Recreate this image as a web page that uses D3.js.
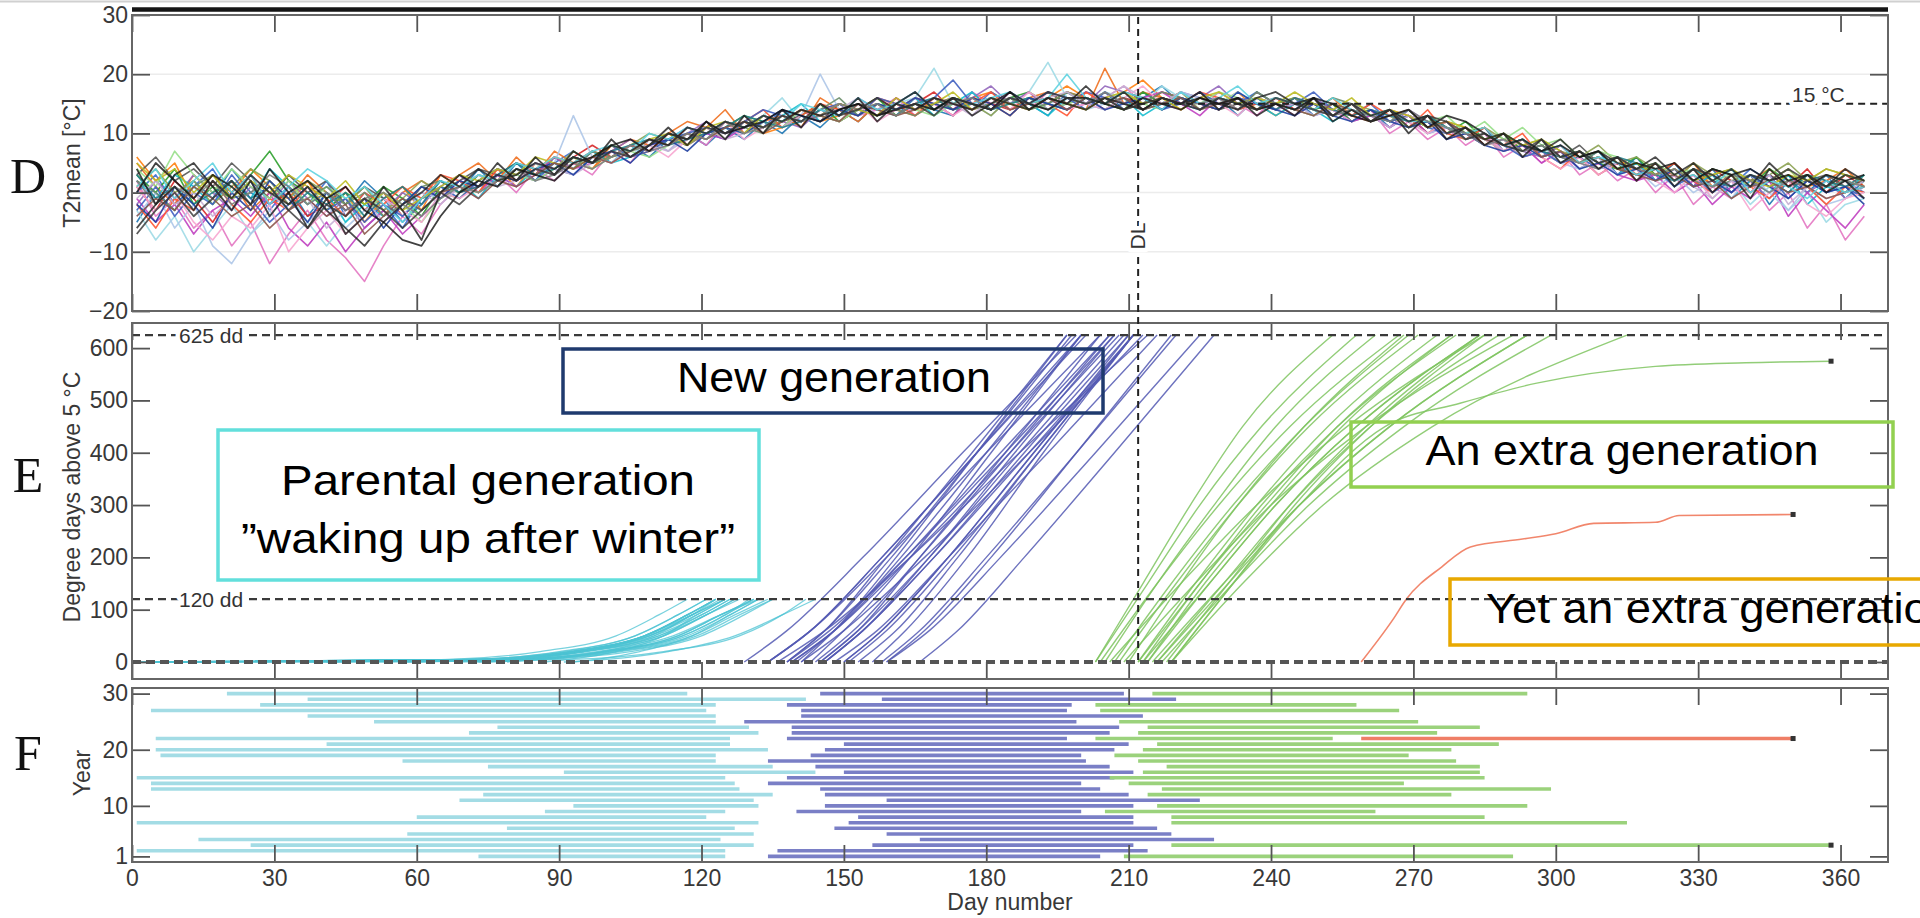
<!DOCTYPE html>
<html lang="en">
<head>
<meta charset="UTF-8">
<title>Degree days and generations</title>
<script src="https://d3js.org/d3.v7.min.js"></script>
<style>
  body { margin: 0; background: #fff; }
  svg { display: block; }
  .axis text { font-family: "Liberation Sans", Arial, sans-serif; font-size: 23px; fill: #383838; }
  .axis line { stroke: #555; stroke-width: 1.8; }
  .title { font-family: "Liberation Sans", Arial, sans-serif; font-size: 23px; fill: #383838; }
  .letter { font-family: "Liberation Serif", "Times New Roman", serif; font-size: 50px; fill: #111; }
  .note { font-family: "Liberation Sans", Arial, sans-serif; font-size: 43px; fill: #000; }
  .ref { font-family: "Liberation Sans", Arial, sans-serif; font-size: 21px; fill: #333;
         paint-order: stroke; stroke: #fff; stroke-width: 9px; stroke-linejoin: round; }
</style>
</head>
<body>
<svg id="chart" width="1920" height="918"></svg>
<script>
// ---- data ----
let dayTicks = [0, 30, 60, 90, 120, 150, 180, 210, 240, 270, 300, 330, 360]
let tempTicks = [-20, -10, 0, 10, 20, 30]
let ddTicks = [0, 100, 200, 300, 400, 500, 600]
let yearTicks = [1, 10, 20, 30]
let years = d3.range(1, 31)

// T2mean, one row per year, sampled every 4th day (day 1, 5, 9 ... 365)
let tempYears = [
  [4,-2,3,5,1,-3,2,-4,0,-6,-1,-7,-4,1,-3,-8,0,3,1,5,2,6,3,7,5,9,6,8,11,8,12,9,13,10,14,11,15,13,16,12,15,17,14,16,13,15,17,14,16,15,18,15,17,14,16,15,17,14,16,13,15,13,16,12,14,12,14,10,13,9,11,8,10,6,9,5,7,4,6,2,5,1,4,0,3,-1,4,1,3,0,2,-1],
  [-5,0,-3,2,-1,4,0,-2,1,-4,0,-2,2,-1,-5,-2,2,0,4,1,5,2,6,4,7,5,8,6,9,10,8,11,9,12,10,13,11,14,12,15,13,16,14,13,17,14,16,15,13,17,15,17,14,16,18,15,14,16,13,16,14,16,13,15,12,14,11,13,10,12,9,11,7,9,6,8,5,7,3,6,2,5,1,4,0,3,-2,2,0,3,-1,2],
  [6,2,5,-1,3,0,4,1,-2,2,-3,0,-5,-1,1,-3,3,1,0,4,1,5,3,6,4,8,6,7,10,8,11,9,12,10,11,14,12,13,15,13,16,14,15,13,16,17,15,14,16,18,16,15,17,19,16,14,16,15,17,14,16,14,15,13,15,12,14,11,13,10,11,8,10,7,8,6,7,4,6,3,4,2,5,1,3,0,2,4,1,2,0,3],
  [2,-4,-1,-6,-3,-9,-5,-12,-7,-3,-8,-11,-15,-9,-4,-7,-2,1,-1,3,0,4,2,5,3,7,5,9,7,10,8,12,10,13,11,14,12,15,13,14,16,13,15,14,17,15,16,14,17,15,17,16,18,15,17,16,14,17,15,13,16,14,13,15,12,14,10,12,9,11,8,10,6,8,5,7,3,5,2,4,0,3,-2,1,-1,2,-3,0,-6,-2,-8,-4],
  [-3,-8,-4,-10,-6,-2,-7,-4,0,-5,-9,-5,-1,-4,0,-2,1,-1,2,4,2,5,3,6,5,7,6,9,8,10,9,12,10,13,16,12,14,13,15,14,15,16,21,15,14,16,15,17,22,16,15,17,16,15,18,16,14,15,17,15,14,16,15,13,14,12,13,11,12,10,9,10,8,7,8,5,7,4,5,2,4,1,3,-1,2,-2,1,-3,0,-5,-2,-1],
  [0,3,-2,1,4,-1,2,-3,1,-2,2,-4,0,-2,-6,-1,0,3,1,2,4,2,5,7,5,6,8,7,9,11,10,9,12,11,14,12,13,15,14,13,15,14,16,15,14,17,15,16,14,15,17,16,15,17,15,16,14,16,15,17,15,14,16,14,13,15,12,13,11,12,10,8,9,7,8,6,5,6,4,5,3,4,2,3,1,4,2,0,3,1,2,0],
  [5,1,-2,3,0,2,-3,0,-1,3,0,-3,-1,-4,0,2,0,3,5,2,6,3,7,5,4,7,9,8,10,12,11,14,10,12,13,11,16,14,12,15,14,13,15,16,14,15,13,16,17,15,14,21,15,17,16,15,17,14,16,15,13,15,14,16,13,12,14,13,10,12,11,9,7,9,6,8,5,6,4,3,5,2,4,1,3,2,4,1,3,2,4,1],
  [1,-3,2,-1,-5,0,3,-2,0,-4,-2,1,-3,0,-4,-1,2,0,1,3,2,5,4,6,8,6,7,9,8,11,10,12,11,13,12,14,13,15,14,16,14,15,17,14,16,15,14,16,15,17,16,14,16,15,17,16,15,14,16,15,16,14,15,14,13,14,12,13,12,10,11,8,9,6,7,5,6,3,5,2,4,3,1,4,2,0,3,1,4,0,3,1],
  [3,0,4,-2,1,-1,3,7,2,0,-3,0,-2,1,-1,-4,1,0,3,2,4,3,6,4,6,8,7,9,8,10,9,11,13,12,11,13,15,12,14,16,13,15,14,16,15,14,16,17,15,14,16,15,14,17,15,16,15,16,14,17,15,16,14,15,12,14,13,11,12,10,12,9,10,7,8,6,7,5,4,6,3,5,2,4,3,1,4,2,3,1,3,2],
  [-2,2,-1,3,0,-3,1,-2,2,-1,-4,-1,-6,-3,0,-2,1,3,0,2,3,2,4,6,5,7,9,7,8,10,12,10,11,13,12,11,14,13,16,14,15,17,14,15,16,18,15,17,14,16,15,18,17,16,15,17,16,18,15,14,15,13,16,14,12,13,11,14,12,9,10,8,9,7,6,8,5,6,3,5,2,4,1,3,0,2,-1,3,0,2,-1,1],
  [-6,-2,1,-3,2,-1,3,0,-2,1,-3,-6,-9,-5,-2,0,3,1,4,2,3,5,4,6,5,8,7,9,8,11,10,12,11,13,12,14,13,14,15,13,15,14,16,15,14,16,15,14,16,15,14,16,15,14,16,15,16,15,14,16,17,15,16,13,15,13,14,12,13,10,11,9,10,8,7,9,6,7,5,4,6,3,5,2,4,1,5,2,3,1,4,2],
  [2,-1,3,1,-2,2,-1,4,1,-2,0,-5,-2,-4,-1,-3,0,2,-1,3,1,4,3,5,7,5,6,8,10,9,11,10,12,11,13,15,12,14,13,15,14,16,13,15,17,14,16,15,13,16,15,14,16,13,15,17,15,16,14,15,13,15,14,12,14,13,12,14,11,12,9,10,8,9,6,7,4,6,3,5,2,3,1,3,-1,2,0,3,-2,1,0,3],
  [-1,-5,-2,-7,-3,-1,-4,0,-6,-9,-5,-10,-6,-3,-7,-4,-1,2,0,3,1,3,6,4,5,7,6,8,9,8,10,9,11,13,12,14,13,12,14,13,16,14,15,13,16,14,17,15,16,14,15,16,14,16,17,15,13,16,14,16,14,15,13,14,12,13,11,13,10,11,9,10,7,8,5,7,4,6,3,2,3,0,2,-2,1,-1,2,-4,0,-3,-6,-2],
  [3,6,2,4,1,5,2,-1,3,0,2,-2,1,-1,-3,1,0,2,4,3,5,4,3,6,5,6,8,7,9,8,11,10,12,11,12,13,12,15,14,13,14,16,15,14,15,16,14,15,17,15,16,15,17,16,14,16,15,14,15,16,15,14,15,13,14,13,12,13,11,12,10,11,8,9,7,6,8,5,6,4,3,5,2,4,3,2,3,1,2,3,1,2],
  [-4,0,-6,-2,-9,-12,-7,-3,-8,-5,-2,-6,-3,-1,-4,0,-1,1,3,2,4,3,5,13,6,5,8,9,7,10,9,11,10,12,14,13,20,14,13,15,14,15,16,14,15,13,16,14,15,16,14,15,16,14,15,17,16,14,16,15,16,15,13,14,15,12,13,12,10,11,10,8,9,6,7,5,4,6,3,4,1,3,0,2,-1,3,0,-3,1,-2,-1,1],
  [1,4,0,2,-2,1,4,2,-1,2,0,-2,1,-3,-1,2,0,-1,2,4,3,5,4,7,5,6,8,10,9,8,10,11,13,11,12,14,13,12,14,15,13,15,14,16,15,13,16,14,15,17,16,15,14,16,15,17,14,16,15,14,15,16,14,13,15,14,12,13,12,11,10,11,9,8,9,7,6,8,5,6,4,2,5,3,4,2,3,5,2,4,3,2],
  [-2,-6,-1,-3,2,-2,-5,-1,-3,1,-1,-4,0,-2,1,-1,3,2,0,4,2,4,6,5,7,6,8,7,10,9,11,10,12,14,11,13,15,14,13,16,15,13,16,14,15,17,14,16,15,13,17,15,16,14,16,15,17,16,14,15,14,16,15,14,13,15,13,11,14,10,9,11,8,10,6,4,7,5,6,4,3,5,2,0,3,1,-1,2,1,-2,1,0],
  [0,5,2,-1,3,1,-2,4,0,2,-1,1,-3,-5,-8,-9,-4,0,2,1,4,3,2,5,6,8,9,7,10,9,12,10,11,12,14,13,12,14,15,13,14,15,14,16,15,14,17,15,14,16,16,15,14,16,15,14,16,15,16,14,15,14,16,15,13,12,13,14,11,13,12,10,8,9,7,8,6,7,4,5,4,5,2,4,3,4,2,3,1,3,2,3],
  [4,1,7,3,0,4,1,-1,2,-2,1,-1,-4,0,-2,-5,-1,1,0,2,3,2,4,6,4,6,7,6,8,10,9,11,10,12,11,14,13,12,14,13,15,14,13,15,16,14,15,16,14,15,16,15,17,15,14,16,15,17,16,14,15,14,13,15,14,12,13,11,12,13,10,12,9,11,8,9,6,7,6,4,5,3,4,2,3,1,2,4,1,3,2,1],
  [-3,1,-4,0,-2,3,-1,-5,-2,1,-3,-1,-5,-2,-4,-1,1,-1,2,4,3,5,4,3,6,8,6,7,9,10,11,10,12,14,13,12,14,15,13,16,15,14,16,19,15,14,16,15,17,16,14,17,15,16,14,15,17,15,16,15,14,15,17,14,12,14,12,13,11,10,11,9,8,6,7,5,6,4,5,3,4,1,3,0,2,1,3,-1,2,0,1,-1],
  [1,-3,0,-5,-8,-4,-6,-2,-10,-6,-3,-7,-4,-1,-3,-5,0,-1,1,3,2,4,3,5,6,5,7,8,6,9,10,12,9,11,13,12,14,13,15,12,14,16,15,13,15,16,14,17,15,14,15,14,16,18,15,14,16,15,13,16,15,13,15,14,12,14,13,12,10,12,9,10,7,9,6,4,6,3,5,4,2,0,3,-1,2,-3,0,2,-2,-4,-1,0],
  [2,0,-3,1,3,-1,0,2,-2,-1,1,-2,0,-4,-2,1,2,0,3,1,4,3,5,4,7,6,7,8,10,9,10,12,11,10,13,12,14,16,13,15,14,13,15,16,14,15,16,14,15,17,15,16,14,15,17,16,15,16,15,14,16,15,14,16,15,13,14,12,13,11,9,10,8,7,8,6,5,7,4,3,4,2,3,1,2,3,1,2,3,1,2,1],
  [-1,2,-2,0,-4,-1,3,0,-3,-1,-6,-3,-1,-5,-2,0,-2,1,3,1,2,5,4,3,5,7,6,8,7,9,11,9,10,12,11,13,12,14,16,13,15,14,16,15,13,16,15,14,16,17,15,16,18,16,15,17,15,16,14,16,14,15,14,13,15,13,11,13,12,10,11,9,7,8,6,7,5,4,5,3,2,4,1,-1,2,0,3,-2,1,-1,0,2],
  [3,-1,1,-2,0,2,-1,1,-3,0,-2,0,-4,-1,1,-2,2,0,1,3,5,3,4,6,5,7,8,9,8,9,10,11,13,12,11,12,14,13,15,14,13,15,16,14,15,14,15,16,15,14,16,15,16,14,15,16,14,16,15,16,14,16,15,14,13,14,13,12,13,11,10,9,10,8,7,6,7,5,6,5,3,2,4,2,1,3,2,0,3,2,1,3],
  [-2,-5,1,-2,-6,0,-3,2,-1,-5,0,-3,-1,-6,-2,1,-1,2,1,3,2,4,5,3,6,7,5,8,9,7,10,11,10,12,14,13,12,14,13,15,14,16,15,14,16,15,13,16,15,14,16,14,15,16,14,16,15,14,17,15,14,13,15,13,12,14,12,11,12,9,10,8,7,8,6,7,4,5,3,4,2,4,1,2,0,3,1,-1,2,0,1,-2],
  [5,2,4,0,3,-1,2,0,3,1,-1,2,-2,0,-3,-1,1,3,2,4,3,6,5,4,6,8,7,9,10,8,11,12,10,13,12,14,13,15,14,13,16,14,15,17,14,16,15,14,16,15,14,16,17,15,16,14,16,17,15,16,15,17,15,14,16,13,14,13,11,12,11,9,10,8,9,7,5,6,4,5,3,4,2,3,4,2,1,3,2,4,3,2],
  [-4,-1,-3,1,-1,-4,-2,-6,-3,-1,-4,-2,-7,-4,-1,-3,0,1,-1,2,1,3,5,4,6,5,7,9,8,10,9,11,12,10,12,14,13,12,15,14,13,14,16,15,14,16,14,15,16,14,16,15,16,14,15,16,14,15,16,14,15,14,13,15,14,12,13,14,11,12,10,9,8,9,6,7,5,6,4,3,2,3,1,2,-1,1,2,0,1,-1,0,1],
  [1,4,-1,2,5,0,3,-2,1,4,2,-1,1,-2,-5,-1,2,1,3,2,5,4,6,5,7,8,7,10,9,11,10,12,11,13,12,15,14,13,16,14,15,17,14,16,15,16,17,15,16,20,16,15,17,16,14,17,15,16,18,15,16,15,14,16,14,13,14,12,12,11,10,11,8,9,7,8,5,6,5,3,4,2,3,1,4,0,2,1,-1,2,0,1],
  [-7,-3,0,-4,-1,2,-2,1,-3,-6,-2,-4,-1,-3,-6,-3,0,-2,1,3,2,4,3,6,5,7,6,8,10,9,11,10,12,11,13,12,15,13,14,16,14,15,13,16,15,14,16,15,17,16,15,16,14,15,16,15,14,16,15,14,16,15,14,13,15,12,14,11,13,12,9,10,8,7,9,6,7,5,6,4,5,2,4,3,1,3,2,4,2,1,3,2],
  [2,-2,1,-1,2,-2,0,3,1,-2,0,-3,-1,0,-2,-4,-1,1,0,2,4,2,3,5,4,6,8,7,8,10,9,12,10,11,13,12,13,15,14,15,13,15,14,15,16,14,16,15,14,16,15,17,15,14,16,15,15,16,14,17,15,14,16,13,14,13,12,14,12,11,10,8,9,7,8,6,5,4,6,4,3,4,2,1,3,2,0,2,1,3,2,1]
]
let tempColors = ['#1a1a1a','#1f77b4','#ff7f0e','#e377c2','#9edae5','#3b6fd0','#f07020','#d62728','#2ca02c','#9467bd',
                  '#222222','#17becf','#c040c0','#555555','#aec7e8','#8ca252','#ff5533','#111111','#98df8a','#4060c0',
                  '#f7a6d0','#6b8e6b','#c5b0d5','#20808a','#2040a0','#bcbd22','#8c564b','#5fd3e0','#333333','#7f7f7f']
let darkLines = [0, 10, 17, 28]

// parental generation: day at which 0, 5, 20, 50, 90, 120 dd is reached (year 1..30)
let cyanLevels = [0, 5, 20, 50, 90, 120]
let cyanDays = [
  [73,80,95,110,118,125],[1,72,92,108,118,125],[25,80,99,115,124,131],[14,75,94,109,118,124],[58,82,100,115,124,131],
  [79,86,99,112,121,127],[1,78,98,114,124,132],[60,73,91,106,115,121],[87,92,102,112,119,125],[93,98,107,118,126,132],
  [69,83,100,116,125,131],[74,86,103,119,128,135],[4,77,96,112,121,128],[4,75,95,111,121,127],[1,74,93,109,119,125],
  [91,100,113,127,137,144],[75,87,105,120,129,135],[57,76,93,108,117,123],[6,74,93,108,117,123],[5,84,102,118,127,134],
  [41,78,95,110,120,126],[5,77,95,111,120,126],[71,84,101,117,126,132],[77,85,100,116,125,130],[51,75,93,108,117,123],
  [37,74,93,109,118,123],[4,72,90,106,115,121],[27,75,93,108,117,123],[37,92,112,128,137,142],[20,67,86,102,111,117]
]
// new generation: day at which 0, 60, 200, 400, 625 dd is reached
let blueLevels = [0, 60, 200, 400, 625]
let blueDays = [
  [134,143,159,180,204],[136,146,164,187,214],[156,163,176,192,211],[166,174,188,207,228],[159,167,181,199,219],
  [148,157,172,193,216],[151,159,173,191,211],[153,161,174,191,211],[140,148,162,180,200],[146,154,169,189,211],
  [159,168,183,203,225],[146,154,169,188,210],[145,153,166,184,204],[134,143,158,178,200],[138,147,163,184,207],
  [150,158,172,190,211],[144,152,166,185,206],[134,143,158,178,201],[143,150,164,181,200],[146,154,168,186,207],
  [150,158,172,190,210],[138,146,159,177,197],[139,148,163,183,206],[139,148,164,185,208],[129,138,154,175,199],
  [141,150,167,189,213],[141,148,161,178,197],[138,146,160,178,198],[158,166,180,199,220],[145,153,168,187,209]
]
// extra generation: day at which 0, 150, 300, 450, 625 dd is reached (null = no extra generation)
let greenLevels = [0, 150, 300, 450, 625]
let greenDays = [
  [209,224,240,260,291], null, null, null, null,
  null, [219,234,251,274,315], [219,232,245,261,285], [205,216,228,241,262], [216,231,246,265,294],
  null, [214,226,240,255,278], [217,232,248,268,299], [210,221,233,247,268], [206,221,237,256,285],
  [213,227,241,258,284], [218,231,244,260,284], [212,225,238,254,279], [207,219,232,247,269], [213,225,239,254,278],
  [216,230,244,261,288], [203,213,223,234,253], [212,224,237,252,275], [214,227,241,258,284], [208,220,233,248,271],
  null, [204,216,229,244,267], [203,214,225,238,258], null, [215,230,246,265,294]
]
// extra generation that did not finish (year 3) and the one more generation (year 22)
let lateGreenYear = 3
let lateGreenDays = [219, 232, 246, 264, 280, 296, 321, 340, 358]
let lateGreenDD = [0, 150, 300, 450, 495, 533, 565, 572, 575]
let redYear = 22
let redDays = [259, 265.6, 268.5, 276, 282, 293, 300, 308, 321, 326, 350]
let redDD = [0, 80, 120, 182, 220, 235, 245, 265, 267, 280, 282]

let dlDay = 212
let threshTemp = 15
let ddLines = [625, 120, 0]

// ---- scales ----
const svg = d3.select('#chart')
const x = d3.scaleLinear().domain([0, 370]).range([132, 1888])
const yD = d3.scaleLinear().domain([-20, 30]).range([311, 15])
const yE = d3.scaleLinear().domain([-32.5, 648]).range([679, 323])
const yF = d3.scaleLinear().domain([0, 31]).range([862, 688])

const cCyan = '#4cc3d3', cBlue = '#5459b3', cGreen = '#7fc460', cRed = '#f0795c'
const fCyan = '#a3dce5', fBlue = '#7a7fc6', fGreen = '#9bd27c', fRed = '#ef7e66'

svg.append('line').attr('x1', 0).attr('x2', 1920).attr('y1', 1.5).attr('y2', 1.5)
  .attr('stroke', '#d0d0d0').attr('stroke-width', 2)

let clip = (id, y0, y1) => {
  svg.append('clipPath').attr('id', id).append('rect')
    .attr('x', x.range()[0]).attr('y', y0).attr('width', x.range()[1] - x.range()[0]).attr('height', y1 - y0)
}
clip('clipD', 15, 311); clip('clipE', 323, 679); clip('clipF', 688, 862)

// ---- axes helper ----
let drawAxes = (y, yTicks, showX) => {
  let [yb, yt] = y.range()
  let bottom = svg.append('g').attr('class', 'axis').attr('transform', `translate(0,${yb})`)
    .call(d3.axisBottom(x).tickValues(dayTicks).tickSize(-17).tickPadding(8).tickFormat(showX ? d3.format('d') : ''))
  let top = svg.append('g').attr('class', 'axis').attr('transform', `translate(0,${yt})`)
    .call(d3.axisTop(x).tickValues(dayTicks).tickSize(-17).tickFormat(''))
  let left = svg.append('g').attr('class', 'axis').attr('transform', `translate(${x.range()[0]},0)`)
    .call(d3.axisLeft(y).tickValues(yTicks).tickSize(-18).tickPadding(4))
  let right = svg.append('g').attr('class', 'axis').attr('transform', `translate(${x.range()[1]},0)`)
    .call(d3.axisRight(y).tickValues(yTicks).tickSize(-18).tickFormat(''))
  ;[bottom, top, left, right].forEach(g => g.select('.domain').remove())
  svg.append('rect').attr('x', x.range()[0]).attr('y', yt).attr('width', x.range()[1] - x.range()[0])
    .attr('height', yb - yt).attr('fill', 'none').attr('stroke', '#666').attr('stroke-width', 2)
}

// ---- panel D ----
const tempDays = d3.range(1, 366, 4)
let gDgrid = svg.append('g')
gDgrid.selectAll('line').data([-10, 0, 10, 20]).join('line')
  .attr('x1', x.range()[0]).attr('x2', x.range()[1])
  .attr('y1', d => yD(d)).attr('y2', d => yD(d))
  .attr('stroke', '#ececec').attr('stroke-width', 1.5)

let gD = svg.append('g').attr('clip-path', 'url(#clipD)')
let tLine = d3.line().x((v, j) => x(tempDays[j])).y(v => yD(v))
let order = d3.range(tempYears.length).filter(i => !darkLines.includes(i)).concat(darkLines)
order.forEach(i => {
  gD.append('path').datum(tempYears[i]).attr('d', tLine)
    .attr('fill', 'none').attr('stroke', tempColors[i])
    .attr('stroke-width', darkLines.includes(i) ? 1.8 : 1.6)
    .attr('stroke-opacity', darkLines.includes(i) ? 0.8 : 0.9).attr('stroke-linejoin', 'round')
})
// 15 degree line from DL onwards
svg.append('line').attr('x1', x(dlDay)).attr('x2', x.range()[1]).attr('y1', yD(threshTemp)).attr('y2', yD(threshTemp))
  .attr('stroke', '#222').attr('stroke-width', 2).attr('stroke-dasharray', '7,5')
svg.append('text').attr('class', 'ref').attr('x', 1792).attr('y', yD(threshTemp) - 2).text('15 °C')
drawAxes(yD, tempTicks, false)
// heavy line above panel D
svg.append('line').attr('x1', x.range()[0]).attr('x2', x.range()[1]).attr('y1', 9.5).attr('y2', 9.5)
  .attr('stroke', '#151515').attr('stroke-width', 4.5)

// ---- panel E ----
let gE = svg.append('g').attr('clip-path', 'url(#clipE)')
let eLine = d3.line().x(d => x(d[0])).y(d => yE(d[1])).curve(d3.curveMonotoneX)
let curve = (pts, color, w, op) => gE.append('path').datum(pts).attr('d', eLine)
  .attr('fill', 'none').attr('stroke', color).attr('stroke-width', w).attr('stroke-opacity', op)

cyanDays.forEach(ds => curve(ds.map((d, k) => [d, cyanLevels[k]]), cCyan, 1.3, 0.75))
blueDays.forEach(ds => curve(ds.map((d, k) => [d, blueLevels[k]]), cBlue, 1.4, 0.85))
greenDays.forEach(ds => { if (ds) curve(ds.map((d, k) => [d, greenLevels[k]]), cGreen, 1.4, 0.85) })
curve(lateGreenDays.map((d, k) => [d, lateGreenDD[k]]), cGreen, 1.4, 0.85)
curve(redDays.map((d, k) => [d, redDD[k]]), cRed, 1.6, 0.9)
;[[lateGreenDays, lateGreenDD], [redDays, redDD]].forEach(([ds, vs]) => {
  gE.append('rect').attr('x', x(ds[ds.length - 1]) - 2.5).attr('y', yE(vs[vs.length - 1]) - 2.5)
    .attr('width', 5).attr('height', 5).attr('fill', '#333')
})

ddLines.forEach(v => {
  svg.append('line').attr('x1', x.range()[0]).attr('x2', x.range()[1]).attr('y1', yE(v)).attr('y2', yE(v))
    .attr('stroke', v === 0 ? '#555' : '#3a3a3a').attr('stroke-width', v === 0 ? 4 : 2.2)
    .attr('stroke-dasharray', v === 0 ? '9,5' : '8,5')
})
svg.append('text').attr('class', 'ref').attr('x', 179).attr('y', yE(625) + 8).text('625 dd')
svg.append('text').attr('class', 'ref').attr('x', 179).attr('y', yE(120) + 8).text('120 dd')
drawAxes(yE, ddTicks, false)

// DL line through D and E
svg.append('line').attr('x1', x(dlDay)).attr('x2', x(dlDay)).attr('y1', yD(30) + 2).attr('y2', yE(0))
  .attr('stroke', '#222').attr('stroke-width', 2).attr('stroke-dasharray', '7,5')
svg.append('text').attr('class', 'ref')
  .attr('transform', `translate(${x(dlDay) + 7},236) rotate(-90)`).attr('text-anchor', 'middle').text('DL')

// ---- panel F ----
let gF = svg.append('g').attr('clip-path', 'url(#clipF)')
let bar = (yr, a, b, color) => gF.append('line')
  .attr('x1', x(a)).attr('x2', x(b)).attr('y1', yF(yr)).attr('y2', yF(yr))
  .attr('stroke', color).attr('stroke-width', 3.6)
years.forEach((yr, i) => {
  let c = cyanDays[i], b = blueDays[i], g = greenDays[i]
  bar(yr, c[0], c[c.length - 1], fCyan)
  bar(yr, b[0], b[b.length - 1], fBlue)
  if (g) bar(yr, g[0], g[g.length - 1], fGreen)
})
bar(lateGreenYear, lateGreenDays[0], lateGreenDays[lateGreenDays.length - 1], fGreen)
bar(redYear, redDays[0], redDays[redDays.length - 1], fRed)
;[[lateGreenYear, lateGreenDays], [redYear, redDays]].forEach(([yr, ds]) => {
  gF.append('rect').attr('x', x(ds[ds.length - 1]) - 2.5).attr('y', yF(yr) - 2.5)
    .attr('width', 5).attr('height', 5).attr('fill', '#333')
})
drawAxes(yF, yearTicks, true)

// ---- titles ----
svg.append('text').attr('class', 'title').attr('x', (x.range()[0] + x.range()[1]) / 2).attr('y', 910)
  .attr('text-anchor', 'middle').text('Day number')
let ytitle = (txt, cx, cy) => svg.append('text').attr('class', 'title')
  .attr('transform', `translate(${cx},${cy}) rotate(-90)`).attr('text-anchor', 'middle').text(txt)
ytitle('T2mean [°C]', 80, 163)
ytitle('Degree days above 5 °C', 80, 497)
ytitle('Year', 90, 773)
let letter = (t, y) => svg.append('text').attr('class', 'letter').attr('x', 28).attr('y', y)
  .attr('text-anchor', 'middle').text(t)
letter('D', 193); letter('E', 492); letter('F', 770)

// ---- annotation boxes ----
let box = (x0, y0, x1, y1, color) => svg.append('rect').attr('x', x0).attr('y', y0)
  .attr('width', x1 - x0).attr('height', y1 - y0).attr('fill', 'none')
  .attr('stroke', color).attr('stroke-width', 3.5)
let note = (txt, xx, yy, len, anchor) => svg.append('text').attr('class', 'note')
  .attr('x', xx).attr('y', yy).attr('text-anchor', anchor || 'middle')
  .attr('textLength', len).attr('lengthAdjust', 'spacingAndGlyphs').text(txt)

box(563, 349, 1103, 413, '#1f3a6e')
note('New generation', 834, 392, 314)
box(218, 430, 759, 580, '#62dfdc')
note('Parental generation', 488, 495, 414)
note('\u201dwaking up after winter\u201d', 488, 553, 494)
box(1351, 422, 1893, 487, '#92d050')
note('An extra generation', 1622, 465, 393)
box(1450, 579, 2000, 645, '#e8a800')
note('Yet an extra generation', 1486, 623, 468, 'start')
</script>
</body>
</html>
